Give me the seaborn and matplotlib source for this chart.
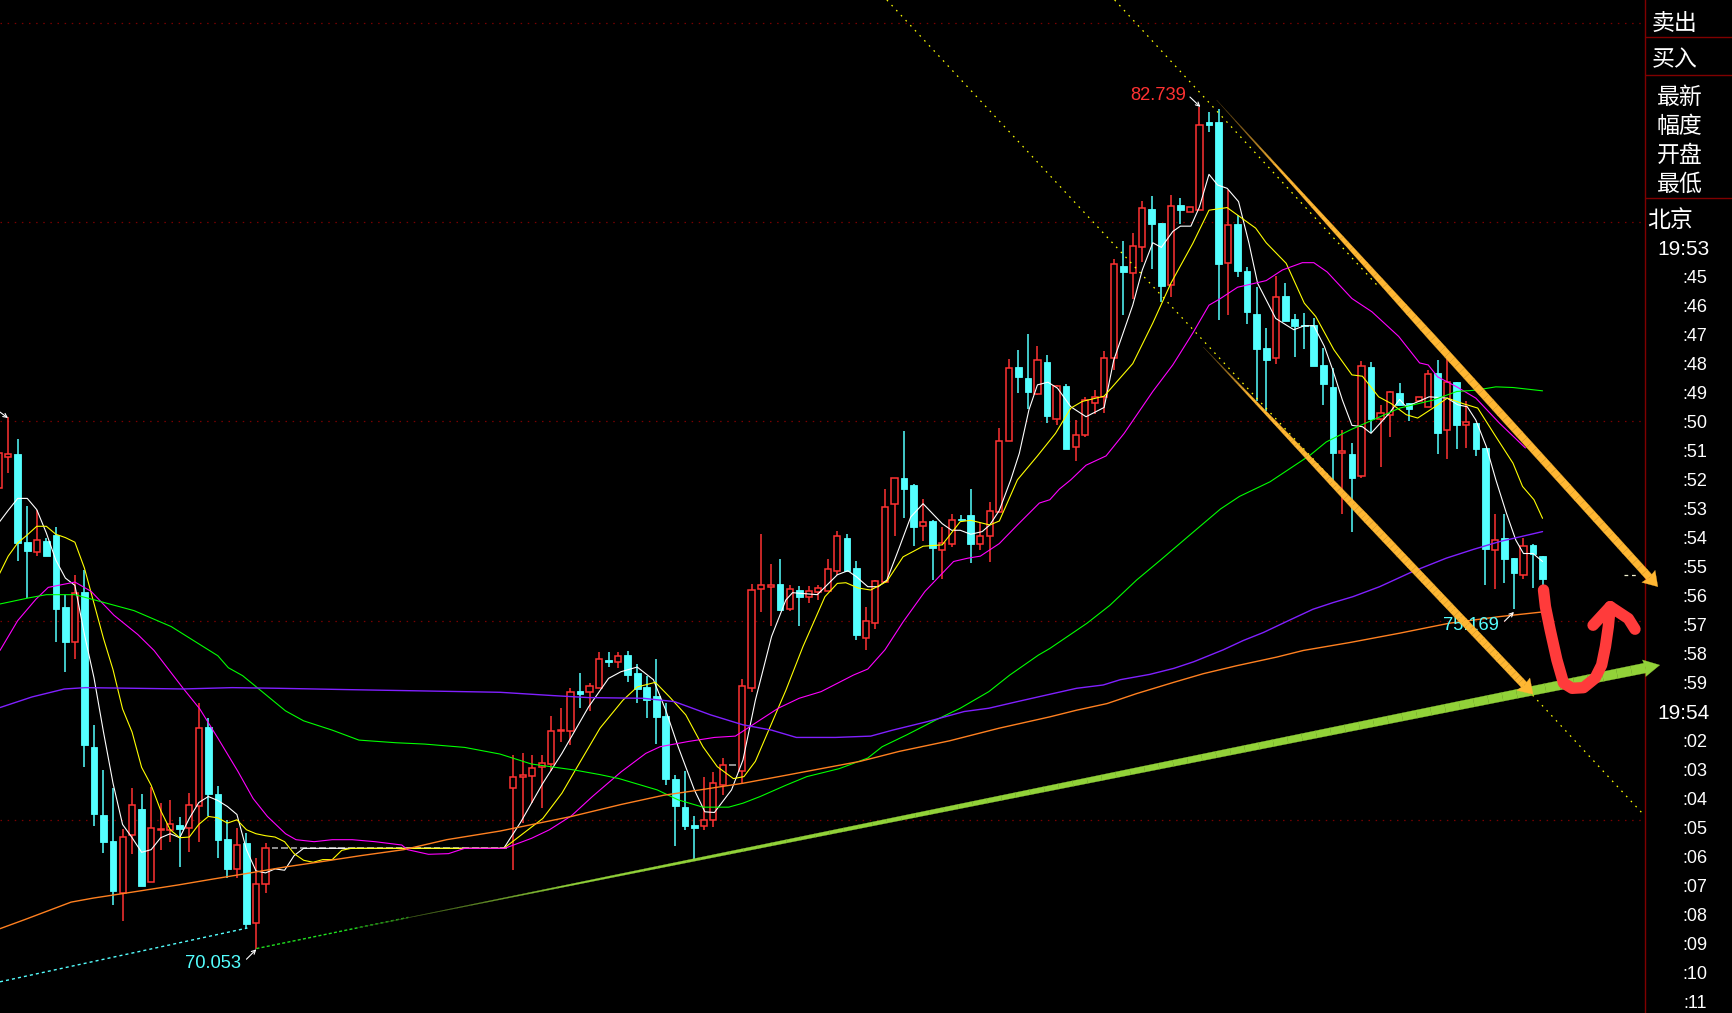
import numpy as np
import pandas as pd
import matplotlib
matplotlib.use("Agg")
import matplotlib.pyplot as plt
from matplotlib.colors import to_rgb
from matplotlib.patches import Polygon
import seaborn as sns

# Candles, one per bar, first bar sits at index -1
OPENS = [77.00, 77.47, 77.51, 76.19, 76.04, 76.20, 76.29, 75.20, 74.68, 75.43, 73.09, 72.07, 71.68, 70.90, 71.77,
         72.16, 71.07, 71.85, 71.85, 71.92, 71.88, 72.21, 73.39, 72.39, 71.71, 71.26, 71.65, 70.44, 71.04] + [71.57] * 25 + [
         72.48, 72.64, 72.66, 72.80, 72.84, 73.33, 73.34, 73.94, 73.93, 73.98,
         74.41, 74.38, 74.48, 74.21, 74.00, 73.86, 73.56, 72.61, 72.19, 71.92,
         71.90, 72.00, 72.52, 72.82, 72.74, 73.99, 75.48, 75.51, 75.55, 75.17,
         75.46, 75.36, 75.43, 75.45, 75.75, 76.24, 75.79, 74.74, 74.97, 75.58,
         76.76, 77.15, 77.04, 76.43, 76.50, 76.07, 76.16, 76.53, 76.59, 76.16,
         76.28, 76.64,
         77.71, 78.82, 78.65, 78.41, 78.89, 78.03, 78.53, 77.62, 77.80, 78.28,
         78.37, 78.96, 80.34, 80.24, 80.62, 81.20, 80.99, 80.06, 81.26, 81.15,
         81.19, 82.51, 82.51, 80.38, 80.97, 80.26, 79.62, 79.11, 78.96, 79.89,
         79.54, 79.45, 79.45, 78.85, 78.52, 77.53, 77.51, 77.18, 78.82, 78.03,
         78.09, 78.42, 78.27, 78.31, 78.22, 78.73, 77.87, 78.59, 77.94, 77.98,
         77.60, 76.07, 76.24, 75.94, 75.68, 76.14, 75.97]
CLOSES = [77.53, 77.51, 76.17, 76.05, 76.21, 75.97, 75.17, 74.68, 75.41, 73.13, 72.09, 71.66, 70.92, 71.74, 72.22,
          71.00, 71.87, 71.86, 71.93, 71.86, 72.22, 73.38, 72.39, 71.70, 71.26, 71.62, 70.43, 71.03, 71.57] + [71.57] * 25 + [
          72.65, 72.68, 72.78, 72.85, 73.33, 73.35, 73.92, 73.90, 74.01, 74.42,
          74.38, 74.47, 74.18, 73.97, 73.81, 73.55, 72.61, 72.21, 71.91, 71.87,
          71.99, 72.55, 72.82, 72.82, 74.01, 75.46, 75.53, 75.53, 75.16, 75.47,
          75.36, 75.44, 75.49, 75.77, 76.27, 75.74, 74.78, 74.99, 75.59, 76.71,
          77.14, 76.98, 76.41, 76.48, 76.10, 76.17, 76.51, 76.51, 76.15, 76.28,
          76.65, 77.70,
          78.81, 78.67, 78.44, 78.92, 78.08, 78.54, 77.59, 77.80, 78.32, 78.37,
          78.95, 80.37, 80.25, 80.64, 81.21, 80.98, 80.04, 81.25, 81.18, 81.23,
          82.47, 82.47, 80.37, 80.95, 80.26, 79.65, 79.09, 78.92, 79.87, 79.51,
          79.44, 79.44, 78.83, 78.56, 77.52, 77.56, 77.15, 78.83, 78.03, 78.12,
          78.44, 78.25, 78.18, 78.36, 78.72, 77.83, 78.60, 77.95, 77.99, 77.59,
          76.08, 76.22, 75.92, 75.71, 76.13, 76.01, 75.63]
HIGHS = [77.75, 78.06, 77.73, 76.72, 76.66, 76.25, 76.41, 75.38, 75.68, 75.76, 73.43, 72.75, 72.48, 71.86, 72.48,
         72.39, 72.49, 72.25, 72.30, 72.04, 72.40, 73.76, 73.54, 72.51, 72.00, 71.87, 71.80, 71.42, 71.65] + [71.57] * 25 + [
         72.98, 73.00, 72.98, 72.98, 73.56, 73.68, 73.98, 74.21, 74.06, 74.53,
         74.53, 74.53, 74.54, 74.34, 74.16, 74.42, 73.76, 72.67, 72.73, 72.05,
         72.64, 72.72, 72.93, 72.82, 74.12, 75.55, 76.30, 75.85, 75.93, 75.54,
         75.52, 75.52, 75.54, 75.92, 76.35, 76.31, 75.89, 75.20, 75.61, 76.98,
         77.14, 77.86, 77.06, 76.83, 76.52, 76.41, 76.61, 76.59, 76.98, 76.47,
         76.79, 77.90,
         78.94, 79.07, 79.32, 79.13, 79.00, 78.55, 78.56, 78.02, 78.37, 78.47,
         79.06, 80.45, 80.72, 80.84, 81.32, 81.39, 80.99, 81.41, 81.36, 81.23,
         82.739, 82.66, 82.70, 81.49, 81.11, 80.32, 80.03, 79.40, 80.19, 80.09,
         79.62, 79.63, 79.55, 79.10, 78.80, 77.87, 77.67, 78.91, 78.89, 78.25,
         78.46, 78.58, 78.27, 78.36, 78.77, 78.92, 78.94, 78.59, 78.31, 77.98,
         77.60, 76.60, 76.61, 75.94, 76.24, 76.15, 75.97]
LOWS = [76.90, 77.22, 75.90, 75.34, 75.98, 75.97, 74.68, 74.23, 74.42, 72.80, 71.90, 71.50, 70.71, 70.47, 71.49,
        71.00, 71.07, 71.55, 71.67, 71.29, 71.52, 71.67, 72.05, 71.42, 71.12, 71.12, 70.37, 70.053, 70.90] + [71.57] * 25 + [
        71.24, 71.95, 72.25, 72.17, 72.73, 73.17, 73.13, 73.69, 73.64, 73.98,
        74.30, 74.28, 74.08, 73.76, 73.53, 73.14, 72.52, 71.60, 71.85, 71.40,
        71.85, 71.89, 72.37, 72.82, 72.55, 73.93, 75.13, 74.92, 75.15, 75.14,
        74.92, 75.27, 75.31, 75.44, 75.69, 75.74, 74.70, 74.55, 74.87, 75.58,
        76.27, 76.55, 76.12, 76.20, 75.61, 75.63, 76.11, 76.51, 75.87, 76.06,
        75.88, 76.64,
        77.71, 78.43, 78.19, 78.40, 77.98, 77.95, 77.59, 77.41, 77.77, 78.11,
        78.12, 78.77, 79.60, 79.84, 80.40, 80.29, 79.80, 79.88, 80.97, 81.15,
        81.19, 82.36, 79.52, 79.60, 80.17, 79.47, 78.30, 78.15, 78.87, 79.51,
        78.97, 79.09, 78.83, 78.25, 77.09, 76.60, 76.34, 77.14, 77.82, 77.32,
        77.76, 78.25, 78.01, 78.31, 78.22, 77.51, 77.43, 77.59, 77.60, 77.48,
        75.53, 75.47, 75.57, 75.169, 75.63, 75.49, 75.52]

WHITE_X = [-1, 0, 1, 2, 3, 4, 5, 6, 7, 8, 9, 10, 11, 12, 13, 14, 15, 16, 17, 18, 19, 20, 21, 22, 23, 24, 25, 26, 27, 28, 29, 30, 31, 52,
           53.8, 56.1, 58.1, 60.9, 63.0, 64.3, 66.0, 67.7, 69.0, 70.3, 72.0, 73.1, 74.1, 75.9, 77.1, 78.4, 80.1, 81.6, 82.3, 84.9,
           87.0, 88.1, 89.0, 90.2, 91.3, 92.2, 93.4, 94.7, 96.0, 98.0, 99.0, 99.9, 101.0, 102.2, 103.0, 104.0, 105.2,
           106.1, 107.1, 108.0, 109.1, 110.1, 111.5, 113.1, 115.0, 116.0, 118.0, 119.0, 120.1, 121.0, 122.2, 123.0, 124.1, 125.0,
           126.0, 126.9, 127.9, 129.1, 130.2, 131.1, 132.0, 133.0, 134.9, 136.0, 137.0, 138.1, 139.0, 140.0, 141.0, 142.1, 143.0,
           144.9, 146.0, 146.7, 149.1, 151.0, 152.1, 153.1, 154.0, 155.1, 156.1, 157.2, 158.2, 159.0, 160.0, 161.0]
WHITE_Y = [76.47, 76.66, 76.84, 76.84, 76.67, 76.32, 75.91, 75.64, 75.53, 74.79, 74.14, 73.32, 72.55, 71.93, 71.73, 71.51, 71.55,
           71.73, 71.79, 71.73, 72.02, 72.26, 72.35, 72.29, 72.20, 72.08, 71.55, 71.23, 71.20, 71.26, 71.24, 71.46, 71.57, 71.57,
           71.97, 72.55, 73.00, 73.70, 74.13, 74.23, 74.30, 74.11, 73.65, 73.10, 72.45, 72.12, 72.11, 72.45, 72.90, 73.80, 74.76, 75.31, 75.42, 75.39,
           75.69, 75.75, 75.66, 75.51, 75.51, 75.61, 76.06, 76.56, 76.76, 76.46, 76.36, 76.36, 76.30, 76.34, 76.44, 76.66, 77.12,
           77.52, 78.17, 78.55, 78.59, 78.50, 78.22, 78.07, 78.21, 78.92, 79.75, 80.28, 80.69, 80.62, 80.86, 80.94, 80.94, 81.23,
           81.72, 81.56, 81.51, 81.31, 80.68, 80.08, 79.83, 79.55, 79.38, 79.44, 79.44, 79.13, 78.77, 78.32, 77.94, 77.92, 77.82,
           78.12, 78.33, 78.22, 78.37, 78.35, 78.25, 78.22, 78.02, 77.62, 77.12, 76.62, 76.21, 76.01, 76.01, 75.89]
YELLOW_X = [-1, 0, 1, 2, 3, 4, 5, 6, 7, 8, 9, 10, 11, 12, 13, 14, 15, 16, 17, 18, 19, 20, 21, 22, 23, 24, 25, 26, 27, 28, 29, 30, 31, 32, 33, 34, 35, 36, 52,
            56.1, 58.1, 59.6, 62.1, 64.5, 66.0, 67.9, 69.4, 71.1, 72.9, 74.4, 76.1, 77.2, 78.4, 80.1, 81.6, 83.4, 85.7, 87.0, 87.9, 89.2, 90.5, 92.2,
            93.9, 96.0, 98.0, 99.9, 101.0, 103.0, 104.0, 105.9, 108.0, 109.9, 111.5, 112.7, 115.0, 118.0, 120.1, 122.0, 124.3, 126.0, 127.9,
            130.9, 132.0, 134.1, 136.0, 137.2, 139.1, 141.0, 142.1, 143.8, 145.1, 146.7, 147.9, 149.5, 151.0, 152.6, 154.2, 156.1, 157.9, 158.9, 160.1, 161.0]
YELLOW_Y = [75.68, 75.97, 76.17, 76.29, 76.42, 76.42, 76.30, 76.25, 76.18, 75.79, 75.26, 74.73, 74.26, 73.67, 73.32, 72.79, 72.52, 72.14, 71.85, 71.73,
            71.74, 71.93, 72.05, 72.03, 71.95, 72.00, 71.85, 71.79, 71.76, 71.74, 71.67, 71.49, 71.39, 71.36, 71.40, 71.40, 71.54, 71.57, 71.57,
            72.02, 72.40, 72.77, 73.38, 73.80, 74.00, 74.07, 73.85, 73.58, 73.10, 72.80, 72.62, 72.65, 72.88, 73.45, 73.95, 74.61, 75.36, 75.56, 75.57, 75.49, 75.46, 75.59,
            75.96, 76.12, 76.14, 76.49, 76.51, 76.44, 76.50, 77.12, 77.48, 77.82, 78.20, 78.30, 78.38, 78.87, 79.48, 80.08, 80.68, 81.18, 81.22,
            80.91, 80.69, 80.38, 79.78, 79.58, 79.08, 78.70, 78.68, 78.37, 78.27, 78.10, 78.05, 78.20, 78.35, 78.27, 78.20, 77.77, 77.37, 77.02, 76.82, 76.54]
MAGENTA_X = [-0.86, 1.0, 2.9, 4.2, 7.0, 8.7, 11.1, 13.6, 15.3, 18.3, 20.1, 22.0, 24.1, 25.7, 27.2, 29.1, 30.2, 32.1, 34.0, 36.1, 38.5, 41.3, 41.9, 44.1, 46.2, 47.9, 52.1,
             54.9, 56.8, 59.1, 61.3, 64.3, 66.9, 68.4, 71.4, 74.1, 76.3, 77.8, 80.8, 83.0, 85.3, 88.7, 90.2, 92.0, 93.9, 96.2, 99.2, 100.7, 102.0, 104.0, 105.9, 108.2, 109.3, 110.3,
             111.5, 113.1, 115.2, 117.1, 120.1, 122.2, 124.3, 126.0, 127.2, 129.0, 132.0, 133.7, 135.8, 137.0, 138.4, 141.0, 143.1, 145.9, 148.1, 149.0, 150.0, 152.0, 154.0, 156.5, 159.2]
MAGENTA_Y = [74.55, 75.00, 75.32, 75.50, 75.58, 75.44, 75.08, 74.79, 74.55, 73.99, 73.67, 73.23, 72.73, 72.32, 72.05, 71.79, 71.70, 71.67, 71.70, 71.70, 71.67, 71.62, 71.55, 71.48, 71.49, 71.57, 71.57,
             71.72, 71.85, 72.06, 72.35, 72.72, 73.00, 73.10, 73.18, 73.24, 73.26, 73.40, 73.68, 73.83, 73.93, 74.18, 74.27, 74.56, 74.98, 75.44, 75.89, 75.94, 75.97, 76.16, 76.44, 76.77, 76.82, 76.98,
             77.12, 77.34, 77.48, 77.82, 78.45, 78.85, 79.33, 79.75, 79.85, 80.02, 80.12, 80.28, 80.39, 80.39, 80.25, 79.85, 79.65, 79.28, 78.88, 78.85, 78.67, 78.52, 78.35, 77.97, 77.60]
GREEN_X = [-0.86, 2.1, 4.0, 7.0, 9.6, 13.2, 17.1, 22.0, 23.1, 24.6, 26.3, 29.1, 31.0, 34.0, 36.8, 40.7, 43.7, 47.9, 51.6,
           54.9, 59.4, 62.1, 64.1, 68.1, 70.3, 72.9, 75.6, 77.1, 78.9, 81.6, 83.8, 87.2, 90.2, 91.7, 94.3, 97.3, 99.9, 102.9, 105.1, 108.1,
           109.3, 113.2, 115.6, 118.4, 120.9, 124.0, 127.2, 129.2, 132.4, 134.5, 136.6, 138.3, 140.8, 146.0, 149.5, 152.0, 154.0, 156.1, 157.9, 161.0]
GREEN_Y = [75.25, 75.34, 75.39, 75.39, 75.29, 75.15, 74.91, 74.47, 74.29, 74.17, 73.97, 73.64, 73.49, 73.35, 73.20, 73.16, 73.14, 73.09, 72.99,
           72.84, 72.75, 72.68, 72.62, 72.45, 72.30, 72.19, 72.19, 72.25, 72.35, 72.52, 72.65, 72.77, 72.93, 73.10, 73.28, 73.50, 73.68, 73.93, 74.18, 74.48,
           74.58, 74.96, 75.23, 75.61, 75.91, 76.29, 76.68, 76.87, 77.09, 77.29, 77.49, 77.69, 77.87, 78.20, 78.32, 78.45, 78.47, 78.52, 78.51, 78.46]
PURPLE_X = [-0.86, 2.5, 5.9, 8.1, 13.4, 18.3, 23.5, 28.4, 35.7, 43.7, 51.6, 57.2, 60.9, 66.6, 69.9, 73.7, 77.1, 80.1, 82.7, 86.8, 90.5, 92.8, 96.5, 100.3, 102.9, 105.9,
            109.3, 112.1, 114.9, 116.7, 119.8, 122.3, 124.4, 127.5, 129.6, 131.7, 134.5, 136.9, 139.0, 141.1, 143.9, 147.4, 150.9, 153.7, 156.5, 161.0]
PURPLE_Y = [73.69, 73.85, 73.97, 73.99, 73.98, 73.97, 73.99, 73.98, 73.96, 73.94, 73.92, 73.87, 73.84, 73.83, 73.78, 73.58, 73.43, 73.35, 73.24, 73.24, 73.26, 73.35, 73.48, 73.63, 73.68, 73.78,
            73.89, 73.98, 74.03, 74.11, 74.19, 74.28, 74.38, 74.56, 74.70, 74.82, 75.01, 75.17, 75.27, 75.36, 75.51, 75.74, 75.94, 76.07, 76.19, 76.34]
ORANGE_X = [-0.86, 1.8, 6.6, 8.9, 12.1, 17.9, 21.6, 25.4, 29.1, 32.9, 37.0, 41.5, 46.0, 51.6, 59.1, 64.3, 68.8, 72.6, 77.1, 81.6, 85.3, 89.4, 93.5, 98.8, 104.0,
            109.3, 112.1, 115.3, 118.4, 122.3, 125.4, 128.9, 133.1, 135.9, 140.8, 146.0, 151.2, 156.5, 161.0]
ORANGE_Y = [70.36, 70.50, 70.76, 70.82, 70.89, 71.02, 71.11, 71.20, 71.29, 71.37, 71.46, 71.55, 71.70, 71.83, 72.05, 72.23, 72.37, 72.45, 72.55, 72.67, 72.77, 72.88, 73.03, 73.19, 73.38,
            73.55, 73.65, 73.75, 73.90, 74.07, 74.20, 74.32, 74.45, 74.55, 74.67, 74.81, 74.96, 75.06, 75.13]

GRID_PRICES = [72, 75, 78, 81, 84]

# Drawn-on trend lines, hand stroke (bar index, price)
DOT_UPPER_X, DOT_UPPER_Y = [116.1, 143.9], [84.346, 80.01]
DOT_LOWER_X, DOT_LOWER_Y = [92.2, 171.65], [84.346, 72.07]
DOT_CYAN_X, DOT_CYAN_Y = [-0.86, 25.1], [69.56, 70.37]
DOT_GREEN_X, DOT_GREEN_Y = [26.04, 42.0], [70.06, 70.53]
ORANGE_UP_START, ORANGE_UP_TIP = (126.8, 82.84), (173.1, 75.51)
ORANGE_LOW_START, ORANGE_LOW_TIP = (125.4, 79.12), (160.0, 73.89)
GREEN_START, GREEN_TIP = (36.6, 70.37), (173.3, 74.33)
STROKE1_X = [161.1, 161.3, 161.8, 162.5, 163.2, 164.1, 165.3, 166.5, 167.2, 167.6, 167.9, 168.1]
STROKE1_Y = [75.46, 75.21, 74.86, 74.41, 74.06, 73.98, 73.99, 74.13, 74.33, 74.61, 74.91, 75.21]
STROKE2_X = [166.3, 168.1, 170.0, 170.7]
STROKE2_Y = [74.93, 75.21, 75.03, 74.87]

# Labels: text, colour, centre and arrow from/to
PRICE_LABELS = ["82.739", "70.053", "75.169"]
PRICE_COLORS = ["#FF3232", "#54FFFF", "#54FFFF"]
PRICE_POS = [(120.65, 82.915), (21.5, 69.83), (153.5, 74.93)]
ARROW_FROM = [(124.0, 82.885), (25.0, 69.90), (157.0, 74.99), (-0.86, 78.14)]
ARROW_TO = [(125.1, 82.735), (26.04, 70.05), (158.0, 75.13), (-0.02, 78.05)]
LAST_MARK_X, LAST_MARK_Y = [169.5, 171.0], [75.69, 75.69]

# Right panel
SIDE_LABELS = ["卖出", "买入", "最新", "幅度", "开盘", "最低", "北京"]
SIDE_X = [7, 7, 12, 12, 12, 12, 2]
SIDE_Y = [23, 60, 97, 126, 155, 184, 220]
SIDE_LINES = [37, 75, 198]
TIME_LABELS = ["19:53", ":45", ":46", ":47", ":48", ":49", ":50", ":51", ":52", ":53", ":54", ":55", ":56", ":57",
               ":58", ":59", "19:54", ":02", ":03", ":04", ":05", ":06", ":07", ":08", ":09", ":10", ":11"]

PANEL_RED = "#800000"
UP = "#FF3232"
DOWN = "#54FFFF"


def tapered_arrow(ax, start, tip, end_width, head_width, head_len, color, fade, grow):
    # body grows from nothing to end_width and fades in from black, sizes in pixels
    to_px = ax.transData
    p0, p1 = to_px.transform([start, tip])
    length = np.hypot(*(p1 - p0))
    u = (p1 - p0) / length
    n = np.array([-u[1], u[0]])
    body = length - head_len * 0.9
    rgb = np.array(to_rgb(color))
    steps = 90
    for j in range(steps):
        t0, t1 = j / steps, (j + 1) / steps
        a, b = p0 + u * body * t0, p0 + u * body * t1
        w0, w1 = end_width * min(1.0, t0 / grow), end_width * min(1.0, t1 / grow)
        quad = [a + n * w0 / 2, b + n * w1 / 2, b - n * w1 / 2, a - n * w0 / 2]
        shade = tuple(rgb * min(1.0, 0.25 + 0.75 * t0 / fade))
        ax.add_patch(Polygon(to_px.inverted().transform(quad), facecolor=shade, edgecolor=shade,
                             lw=0.2, clip_on=False, zorder=6))
    base = p1 - u * head_len
    head = [p1, base + n * head_width / 2, p1 - u * head_len * 0.9, base - n * head_width / 2]
    ax.add_patch(Polygon(to_px.inverted().transform(head), facecolor=color, edgecolor=color,
                         lw=0.2, clip_on=False, zorder=6))


def main():
    sns.set_theme(style="dark", rc={"figure.facecolor": "black", "axes.facecolor": "black",
                                    "savefig.facecolor": "black"})
    plt.rcParams["font.family"] = ["Liberation Sans", "Noto Sans CJK SC", "DejaVu Sans"]

    fig = plt.figure(figsize=(17.32, 10.13), dpi=100)
    ax = fig.add_axes([0, 0, 1645 / 1732, 1])
    ax.set_xlim(-0.86, 171.75)
    ax.set_ylim(69.09, 84.346)

    # Grid
    ax.set_yticks(GRID_PRICES)
    ax.set_yticklabels([])
    ax.set_xticks([])
    ax.tick_params(length=0)
    ax.set_axisbelow(True)
    ax.grid(axis="y", color="#7A0000", lw=0.9, ls=(0, (1.2, 4.5)))
    for edge in ["top", "left", "bottom"]:
        ax.spines[edge].set_visible(False)
    ax.spines["right"].set_visible(True)
    ax.spines["right"].set_color(PANEL_RED)
    ax.spines["right"].set_linewidth(1.0)

    # Candles
    df = pd.DataFrame({"open": OPENS, "close": CLOSES, "high": HIGHS, "low": LOWS})
    df["bar"] = np.arange(len(df)) - 1
    up = df[df["close"] > df["open"]]
    down = df[df["close"] < df["open"]]
    flat = df[df["close"] == df["open"]]
    width = 0.70

    ax.vlines(up["bar"], up["low"], up["high"], color=UP, lw=1.1, zorder=2)
    ax.vlines(down["bar"], down["low"], down["high"], color=DOWN, lw=1.1, zorder=2)
    ax.bar(up["bar"], up["close"] - up["open"], bottom=up["open"], width=width - 0.06,
           facecolor="black", edgecolor=UP, lw=1.1, zorder=3)
    ax.bar(down["bar"], down["open"] - down["close"], bottom=down["close"], width=width,
           facecolor=DOWN, edgecolor=DOWN, lw=0.6, zorder=3)
    ax.hlines(flat["open"], flat["bar"] - width / 2, flat["bar"] + width / 2, color="#B8B8B8", lw=1.1, zorder=3)

    # Moving averages
    series = [(WHITE_X, WHITE_Y, "#FFFFFF", 0.8), (YELLOW_X, YELLOW_Y, "#FFFF00", 0.8),
              (MAGENTA_X, MAGENTA_Y, "#FF00FF", 0.8), (GREEN_X, GREEN_Y, "#00FF00", 0.8),
              (PURPLE_X, PURPLE_Y, "#8020FF", 1.0), (ORANGE_X, ORANGE_Y, "#FF8020", 1.0)]
    for xs, ys, color, lw in series:
        sns.lineplot(x=xs, y=ys, color=color, lw=lw, ax=ax, sort=False, estimator=None,
                     legend=False, zorder=4)
    ax.set_xlabel("")
    ax.set_ylabel("")
    ax.set_xlim(-0.86, 171.75)
    ax.set_ylim(69.09, 84.346)

    # Dotted lines
    dots = (0, (1.3, 4.2))
    ax.plot(DOT_UPPER_X, DOT_UPPER_Y, color="#FFFF00", lw=0.9, ls=dots, zorder=5)
    ax.plot(DOT_LOWER_X, DOT_LOWER_Y, color="#FFFF00", lw=0.9, ls=dots, zorder=5)
    ax.plot(DOT_CYAN_X, DOT_CYAN_Y, color=DOWN, lw=1.0, ls=(0, (2.2, 2.2)), zorder=5)
    ax.plot(DOT_GREEN_X, DOT_GREEN_Y, color="#20E020", lw=1.0, ls=(0, (2.2, 1.6)), zorder=5)
    ax.plot(LAST_MARK_X, LAST_MARK_Y, color="#F4F4D0", lw=0.9, ls=(0, (3, 3)), zorder=5)

    # Drawn arrows and the red hand stroke
    tapered_arrow(ax, GREEN_START, GREEN_TIP, 10, 17, 16, "#92D239", 0.16, 1.0)
    tapered_arrow(ax, ORANGE_UP_START, ORANGE_UP_TIP, 7.5, 18, 14, "#FFB733", 0.14, 0.5)
    tapered_arrow(ax, ORANGE_LOW_START, ORANGE_LOW_TIP, 7.5, 18, 14, "#FFB733", 0.14, 0.5)
    for xs, ys in [(STROKE1_X, STROKE1_Y), (STROKE2_X, STROKE2_Y)]:
        ax.plot(xs, ys, color="#FF3B3B", lw=8.2, solid_capstyle="round", solid_joinstyle="round",
                clip_on=False, zorder=7)

    # Extreme labels
    for text, color, (x, y) in zip(PRICE_LABELS, PRICE_COLORS, PRICE_POS):
        ax.text(x, y, text, color=color, fontsize=13.2, ha="center", va="center", zorder=5)
    for start, end in zip(ARROW_FROM, ARROW_TO):
        ax.annotate("", xy=end, xytext=start, zorder=5, annotation_clip=False,
                    arrowprops=dict(arrowstyle="->", color="white", lw=0.8, mutation_scale=7,
                                    shrinkA=0, shrinkB=0))

    # Right panel
    side = fig.add_axes([1645 / 1732, 0, 87 / 1732, 1])
    side.set_xlim(0, 87)
    side.set_ylim(1013, 0)
    side.axis("off")
    side.hlines(SIDE_LINES, 0, 87, color=PANEL_RED, lw=1.0)
    for text, x, y in zip(SIDE_LABELS, SIDE_X, SIDE_Y):
        side.text(x, y, text, color="white", fontsize=16.5, ha="left", va="center",
                  family=["Noto Sans CJK SC", "DejaVu Sans"])
    for k, text in enumerate(TIME_LABELS):
        big = text.startswith("19")
        side.text(65 if big else 62, 249.0 + 29.0 * k, text, color="white",
                  fontsize=15 if big else 13, ha="right", va="center")

    fig.savefig("out.png", dpi=100)
    plt.close(fig)


if __name__ == "__main__":
    main()
